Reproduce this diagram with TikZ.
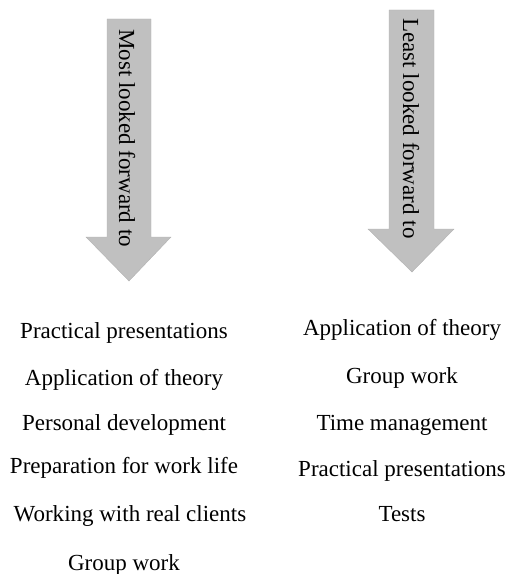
\documentclass[tikz,border=0pt]{standalone}
\usepackage{fontspec}
\setmainfont{Liberation Serif}
\definecolor{arrowgray}{RGB}{192,192,192}
\definecolor{arrowedge}{RGB}{178,178,178}

\begin{document}
\begin{tikzpicture}[x=1bp,y=-1bp,font=\fontsize{23bp}{28bp}\selectfont]

	\def\leftcol{124}
	\def\rightcol{402}
	
	\useasboundingbox (0,0) rectangle (511,574);
	
	% the two arrows
	\filldraw[fill=arrowgray,draw=arrowedge] (107,19) -- (151,19) -- (151,237) -- (171,237) -- (129,281) -- (86,237) -- (107,237) -- cycle;
	\filldraw[fill=arrowgray,draw=arrowedge] (389,10) -- (434,10) -- (434,229) -- (454,229) -- (412,272) -- (368,229) -- (389,229) -- cycle;
	
	\node[rotate=-90,anchor=base west,inner sep=0] (most) at (119,29) {Most looked forward to};
	\node[rotate=-90,anchor=base west,inner sep=0] (least) at (403,18) {Least looked forward to};
	
	% most looked forward to
	\node[anchor=base] (m1) at (\leftcol,338) {Practical presentations};
	\node[anchor=base] (m2) at (\leftcol,385) {Application of theory};
	\node[anchor=base] (m3) at (\leftcol,430) {Personal development};
	\node[anchor=base] (m4) at (\leftcol,473) {Preparation for work life};
	\node[anchor=base] (m5) at (\leftcol+6,521) {Working with real clients};
	\node[anchor=base] (m6) at (\leftcol,570) {Group work};
	
	% least looked forward to
	\node[anchor=base] (l1) at (\rightcol,335) {Application of theory};
	\node[anchor=base] (l2) at (\rightcol,383) {Group work};
	\node[anchor=base] (l3) at (\rightcol,430) {Time management};
	\node[anchor=base] (l4) at (\rightcol,476) {Practical presentations};
	\node[anchor=base] (l5) at (\rightcol,521) {Tests};
	
\end{tikzpicture}
\end{document}
